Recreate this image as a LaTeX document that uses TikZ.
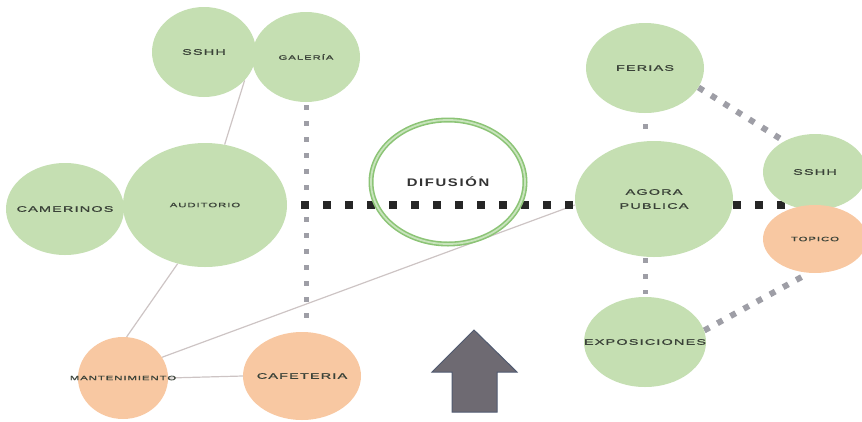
\documentclass[tikz,border=0pt]{standalone}
\usepackage{fontspec}
\setmainfont{Liberation Sans}
\newfontfamily\lblfont[FakeStretch=1.8,LetterSpace=15,FakeBold=1.2]{Liberation Sans}
\newfontfamily\difont[FakeStretch=1.35,LetterSpace=15]{Liberation Sans}
\newcommand\zw[1]{\makebox[0pt][c]{#1}}
\usetikzlibrary{shapes.geometric,backgrounds}
\definecolor{gfill}{RGB}{197,223,178}
\definecolor{ofill}{RGB}{248,200,162}
\definecolor{txt}{RGB}{58,66,56}
\definecolor{thinc}{RGB}{205,196,196}
\definecolor{dotg}{RGB}{158,158,166}
\definecolor{ring}{RGB}{140,196,118}
\definecolor{ringin}{RGB}{200,228,188}
\definecolor{arrowfill}{RGB}{110,106,114}
\definecolor{arrowdraw}{RGB}{80,90,112}
\tikzset{
  bub/.style={ellipse, inner sep=0pt, text=txt, align=center},
  gbub/.style={bub, fill=gfill},
  obub/.style={bub, fill=ofill},
  bigtxt/.style={font=\lblfont\fontsize{8}{11}\selectfont},
  smalltxt/.style={font=\lblfont\fontsize{6.3}{8}\selectfont},
  thinline/.style={draw=thinc, line width=1.2pt},
  greydots/.style={draw=dotg, line width=5pt, dash pattern=on 5pt off 11pt},
  blackdots/.style={draw=black!85, line width=8pt, dash pattern=on 8pt off 14pt},
}
\begin{document}
\begin{tikzpicture}[x=1pt,y=-1pt]
\useasboundingbox (0,0) rectangle (862,421);
% left cluster
\node[gbub, bigtxt, minimum width=104pt, minimum height=90pt] (sshhA) at (204,52) {\zw{SSHH}};
\node[gbub, smalltxt, minimum width=108pt, minimum height=90pt] (galeria) at (306,57) {\zw{GALERÍA}};
\node[gbub, bigtxt, minimum width=118pt, minimum height=92pt] (camerinos) at (65,209) {\zw{CAMERINOS}};
\node[gbub, smalltxt, minimum width=164pt, minimum height=124pt] (auditorio) at (205,205) {\zw{AUDITORIO}};
\node[obub, smalltxt, minimum width=90pt, minimum height=82pt] (mant) at (123,378) {\zw{MANTENIMIENTO}};
\node[obub, bigtxt, minimum width=118pt, minimum height=88pt] (cafe) at (302,376) {\zw{CAFETERIA}};
% centre
\node[ellipse, minimum width=154pt, minimum height=124pt, draw=ring, line width=1.6pt, double=ringin, double distance=1.8pt, text=black!80, font=\difont\bfseries\fontsize{11}{13}\selectfont] (difusion) at (448,182) {DIFUSIÓN};
% right cluster
\node[gbub, bigtxt, minimum width=118pt, minimum height=90pt] (ferias) at (645,68) {\zw{FERIAS}};
\node[gbub, bigtxt, minimum width=158pt, minimum height=116pt] (agora) at (654,199) {\zw{AGORA}\\[3pt]\zw{PUBLICA}};
\node[gbub, bigtxt, minimum width=104pt, minimum height=76pt] (sshhB) at (815,172) {\zw{SSHH}};
\node[obub, smalltxt, minimum width=104pt, minimum height=68pt] (topico) at (815,239) {\zw{TOPICO}};
\node[gbub, bigtxt, minimum width=122pt, minimum height=90pt] (expo) at (645,342) {\zw{EXPOSICIONES}};
\coordinate (bl) at (301,205);
\coordinate (br) at (792,205);
\begin{scope}[on background layer]
  \draw[thinline] (sshhA.-35) -- (auditorio.72);
  \draw[thinline] (auditorio.-115) -- (mant.85);
  \draw[thinline] (mant.28) -- (agora.west |- bl);
  \draw[thinline] (mant.east) -- (cafe.west);
  \draw[greydots, shorten <=3pt, shorten >=4pt] (galeria.south) -- (galeria.south |- cafe.north);
  \draw[greydots, shorten <=11pt, shorten >=6pt] (ferias.south) -- (ferias.south |- agora.north);
  \draw[greydots, shorten <=1pt, shorten >=3pt] (expo.north |- agora.south) -- (expo.north);
  \draw[greydots, line width=6pt, dash pattern=on 6pt off 9pt] (ferias.-20) -- (sshhB.135);
  \draw[greydots, line width=6pt, dash pattern=on 6pt off 9pt] (expo.11) -- (topico.-100);
  \draw[blackdots] (bl) -- (bl -| agora.west);
  \draw[blackdots] (agora.east |- bl) -- (br);
\end{scope}
% arrow
\draw[fill=arrowfill, draw=arrowdraw, line width=1pt] (452,412) -- (452,372) -- (432,372) -- (474,330) -- (517,372) -- (497,372) -- (497,412) -- cycle;
\end{tikzpicture}
\end{document}
